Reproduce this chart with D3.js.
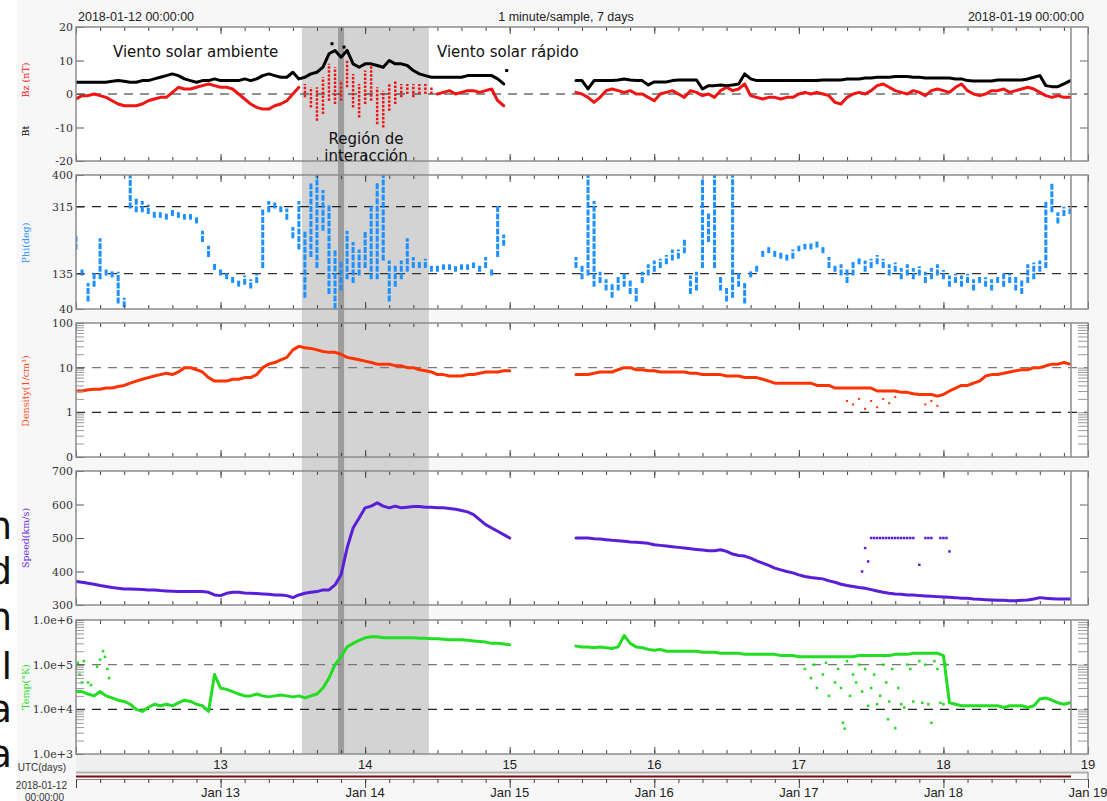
<!DOCTYPE html>
<html><head><meta charset="utf-8">
<script src="https://cdn.jsdelivr.net/npm/d3@7"></script>
<style>body{margin:0;background:#fff}svg{display:block}</style>
</head><body>
<svg id="c" width="1107" height="801"></svg>
<script>
// ---------- DATA (hourly samples from 2018-01-12 00:00 UTC, index = hour) ----------
const startDate = "2018-01-12T00:00:00Z";
const endDate = "2018-01-19T00:00:00Z";
const N = null;
const bt = [3.5,3.5,3.5,3.5,3.5,3.5,3.8,4,3.8,3.5,
 3.5,4,4,4.5,5,5.5,6,5.5,4.5,4,
 3.5,4,4,4.5,4,4,4,4,4.5,4,
 4.5,5.5,6,5.5,5,5,6.5,4.5,5,6,
 6.5,8,12,13,11,13,9,8,9,9,
 8.5,8,10,9,9,8.5,7,6,5.5,5,
 5,5,5,5,5,5.5,5.5,5.5,5.5,5.5,
 4.5,3,N,N,N,N,N,N,N,N,
 N,N,N,4,4,1.5,4,4,4,4,
 4.2,4.5,4.2,4,4,2.7,3.6,3.6,3.6,4,
 4.2,4.2,4.2,4.2,1.5,2.5,2.5,2.7,2.5,2.7,
 3,6,4.5,4,4,4,4,4,4,4,
 4,4,4,4,4.2,4.2,4.2,4.2,4.5,4.5,
 4.5,4.8,4.8,5,5,5,5.2,5.2,5.2,5,
 5,4.8,4.8,4.8,4.8,4.8,4.5,4.5,4,3.9,
 3.9,3.9,3.9,4.2,4.2,4.2,4.2,4.2,4.5,5,
 5.5,2.5,2.2,2.2,3,3.9];
const btExtra = [[42.5,15],[44.5,14],[71.5,7]];
const bz = [-1.5,-0.5,-0.5,0,-0.5,-1,-2,-3,-3.5,-3.5,
 -3.5,-3,-2,-1.5,-1,-1,0.5,2,1.5,1.5,
 2,2.5,3,2.5,2,2,1.5,0,-1.5,-3,
 -4,-4.5,-4.5,-3.5,-3,-2,0,2,N,N,
 N,N,N,N,N,N,N,N,N,N,
 N,N,N,N,N,N,N,N,N,N,
 0,0.5,1,0,0.5,1,1,0.5,1,1.5,
 -2,-3.5,N,N,N,N,N,N,N,N,
 N,N,N,0.5,0,-1,-2.5,-1,1,1.5,
 1,0.5,1,0,0,-1,-2,0,0.5,1,
 0,-1,1,0.5,-0.5,0,-1,1,2,1,
 1.5,3,-0.5,-1,-1.5,-1,-1,-1.5,-1,-1,
 0,0.5,0,0.5,0,-0.5,-2.5,-3,-1,0,
 0.5,0,1,2.5,3,2,1,0.5,0,1,
 0.5,-0.5,1,1.5,1,0.5,2,3,1,0,
 -0.5,0,1,1,1.5,0.5,1,1.5,2,1.5,
 0.5,-0.5,-1,-0.5,-1,-1];
// interaction region Bz spread: [hour, low, high]
const bzSpread = [[38,-1,3],[39,-4,2],[40,-8,2],[41,-6,5],[42,-2,9],[43,-3,8],[44,-2,4],
 [45,2,10],[46,-4,6],[47,-7,3],[48,-3,7],[49,-2,9],[50,-9,2],[51,-10,1],[52,-5,3],
 [53,-3,4],[54,-1,3],[55,0,3],[56,-1,3],[57,0,3],[58,0,3],[59,0,2]];
const phiLo = [200,130,60,100,120,130,125,55,45,310,
 300,300,295,285,285,280,290,285,280,280,
 270,220,180,145,130,120,110,100,105,95,
 110,150,300,310,300,280,230,200,70,180,
 150,250,80,40,90,120,110,130,150,120,
 120,170,60,100,120,140,150,150,150,140,
 140,145,145,140,145,145,150,140,150,130,
 180,210,N,N,N,N,N,N,N,N,
 N,N,N,150,120,130,100,110,90,70,
 90,100,80,60,110,130,140,150,160,170,
 175,190,80,90,150,220,150,90,60,70,
 100,55,125,140,180,190,180,175,170,175,
 195,200,200,205,190,150,140,130,110,130,
 160,140,150,160,150,130,140,120,130,120,
 130,110,120,130,120,100,110,100,110,90,
 110,100,90,110,100,110,90,80,110,120,
 140,150,300,270,290,295];
const phiHi = [235,150,110,140,230,150,145,140,70,400,
 340,330,320,305,300,300,310,300,295,295,
 290,250,210,165,150,140,130,120,130,120,
 135,310,330,330,320,310,260,330,250,380,
 400,360,320,200,170,250,220,200,250,320,
 380,400,170,160,170,230,180,170,175,160,
 160,160,160,155,160,160,165,160,180,150,
 320,240,N,N,N,N,N,N,N,N,
 N,N,N,180,160,400,330,140,120,110,
 130,140,120,100,140,160,170,175,185,200,
 200,230,130,140,390,300,400,130,100,400,
 140,110,145,160,200,210,200,195,190,200,
 210,215,220,225,210,180,160,160,150,170,
 180,170,175,185,175,160,165,150,160,150,
 155,140,150,160,145,130,135,130,135,120,
 130,125,120,130,140,135,130,120,160,165,
 170,330,380,300,315,310];
const density = [3,3,3.2,3.3,3.3,3.5,3.5,3.8,4,4.5,
 5,5.5,6,6.5,7,7.5,7,8,10,10,
 9,8,6,5,5,5,5.5,5.5,6,6,
 7,10,12,13,15,17,25,30,28,27,
 25,23,22,22,20,17,16,15,14,13,
 12,12,12,11,11,10,10,9,8.5,8,
 7,7,6.5,6.5,6.5,7,7,7.5,8,8,
 8,8.5,8.5,N,N,N,N,N,N,N,
 N,N,N,7,7,7,7.5,8,8,8,
 9,10,10,9,9,8.5,8.5,8,8,8,
 8,8,7.5,7.5,7,7,7,7,6.5,6.5,
 6.5,6,6,6,5.5,5,4.5,4.5,4.5,4.5,
 4.5,4.5,4.5,4,4,4,3.5,3.5,3.5,3.5,
 3.5,3.5,3.5,3,3,3,3,2.8,2.8,2.6,
 2.5,2.5,2.5,2.3,2.5,3,3.5,4,4,4.5,
 5,6.5,7,7,7.5,8,8.5,9,9,10,
 10,11,12,12,13,12];
const densityExtra = [[128,1.8],[129,1.5],[130,2],[131,1.2],[132,1.8],[133,1.3],[134,2],
 [135,1.6],[136,2.2],[141,1.5],[142,1.8],[143,1.4]];
const speed = [370,368,365,362,358,355,352,350,348,348,
 347,346,345,345,343,342,341,340,340,340,
 340,340,338,330,328,335,338,338,336,335,
 334,333,332,330,330,328,322,330,335,338,
 340,345,345,360,390,470,530,560,590,595,
 605,595,590,595,590,592,594,594,592,592,
 590,590,588,586,582,578,570,555,540,530,
 520,510,500,N,N,N,N,N,N,N,
 N,N,N,500,500,500,498,497,495,493,
 492,490,488,487,486,484,480,478,476,474,
 472,470,468,466,464,462,462,465,460,452,
 448,446,440,432,425,418,410,405,400,396,
 390,385,382,380,378,372,368,362,358,355,
 352,350,346,342,338,335,333,332,330,330,
 328,327,326,325,324,323,322,320,320,318,
 317,316,315,314,314,313,313,314,315,318,
 322,320,319,318,318,318];
const speedExtra = [[130.5,400],[131,470],[131.5,430],[132,500],[132.5,500],[133,500],[133.5,500],
 [134,500],[134.5,500],[135,500],[135.5,500],[136,500],[136.5,500],[137,500],[137.5,500],
 [138,500],[138.5,500],[139,500],[140,420],[141,500],[141.5,500],[142,500],[143.5,500],
 [144,500],[144.5,500],[145,460]];
const temp = [2.5e4,2.5e4,2.2e4,2e4,2.5e4,2e4,1.8e4,1.6e4,1.5e4,1.3e4,
 1e4,9e3,1.1e4,1.3e4,1.2e4,1.3e4,1.2e4,1.4e4,1.6e4,1.5e4,
 1.3e4,1.2e4,9e3,6e4,3e4,2.8e4,2.5e4,2.2e4,2e4,2e4,
 2.2e4,2e4,1.9e4,2e4,2.1e4,2e4,1.9e4,2e4,1.8e4,2e4,
 2.2e4,3e4,5e4,1e5,1.5e5,2.5e5,3e5,3.5e5,4e5,4.2e5,
 4.2e5,4e5,4e5,4e5,4e5,4e5,4e5,3.9e5,3.9e5,3.8e5,
 3.8e5,3.7e5,3.6e5,3.6e5,3.6e5,3.5e5,3.4e5,3.3e5,3.2e5,3e5,
 3e5,2.9e5,2.8e5,N,N,N,N,N,N,N,
 N,N,N,2.6e5,2.5e5,2.5e5,2.4e5,2.5e5,2.4e5,2.3e5,
 2.5e5,4.5e5,3e5,2.5e5,2.4e5,2.2e5,2.1e5,2.2e5,2e5,2e5,
 2e5,2e5,2e5,2e5,1.9e5,1.9e5,1.9e5,1.8e5,1.8e5,1.8e5,
 1.8e5,1.7e5,1.7e5,1.7e5,1.7e5,1.7e5,1.7e5,1.6e5,1.6e5,1.6e5,
 1.5e5,1.5e5,1.5e5,1.5e5,1.5e5,1.5e5,1.5e5,1.5e5,1.5e5,1.5e5,
 1.6e5,1.6e5,1.6e5,1.6e5,1.6e5,1.6e5,1.7e5,1.7e5,1.7e5,1.8e5,
 1.8e5,1.8e5,1.8e5,1.8e5,1.6e5,1.4e4,1.3e4,1.2e4,1.2e4,1.2e4,
 1.2e4,1.2e4,1.2e4,1.2e4,1.1e4,1.2e4,1.2e4,1.2e4,1.1e4,1.2e4,
 1.7e4,1.8e4,1.6e4,1.4e4,1.3e4,1.4e4];
const tempExtra = [[0,8e4],[0.3,1.1e5],[0.6,6e4],[1,4e4],[1.3,1.2e5],[2,4e4],[2.5,3.5e4],
 [3.5,9e4],[4,1.3e5],[4.5,2e5],[4.8,1.5e5],[5.2,8e4],[5.5,5e4],
 [121,8e4],[122,5e4],[122.5,1e5],[123,3e4],[124,6e4],[124.5,1.1e5],[125,2e4],[126,4e4],
 [126.5,8e4],[127,3e4],[127.3,5e3],[127.6,3.7e3],[128,1.2e5],[128.5,2e4],[129,6e4],
 [129.5,4e4],[130,1e5],[130.5,2.5e4],[131,8e4],[131.5,1.2e4],[132,3e4],[132.5,6e4],
 [133,1.3e4],[133.5,2e4],[134,1e5],[134.5,4e4],[134.8,6e3],[135,1.5e4],[135.5,8e4],
 [136,3.8e3],[136.5,3e4],[137,1.3e4],[137.5,1.1e4],[138,1e5],[138.5,8e4],[139,1.5e4],
 [140,1.2e5],[140.5,1.4e4],[141,1e5],[141.5,1.3e4],[142,5e3],[142.5,1.2e5],[143,8e4],
 [143.5,1.4e4],[144,1.3e4],[144.5,1e5]];
// tick labels
const bTicks = [20,10,0,-10,-20];
const phiTicks = [400,315,135,40];
const densTicks = [100,10,1,0.1];
const densLabels = ["100","10","1","0"];
const speedTicks = [700,600,500,400,300];
const tempTicks = [1e6,1e5,1e4,1e3];
const tempLabels = ["1.0e+6","1.0e+5","1.0e+4","1.0e+3"];
const dayLabels = ["13","14","15","16","17","18","19"];
const dateLabels = ["Jan 13","Jan 14","Jan 15","Jan 16","Jan 17","Jan 18","Jan 19"];
const shadeStart = "2018-01-13T13:30:00Z", shadeEnd = "2018-01-14T10:35:00Z";
const markStart = "2018-01-13T19:30:00Z", markEnd = "2018-01-13T20:30:00Z";

// ---------- DRAW ----------
const svg = d3.select("#c");
const t0 = new Date(startDate).getTime();
const hd = h => new Date(t0 + h * 3600000);
const X0 = 76, X1 = 1088, XD = 1071;
const x = d3.scaleUtc().domain([new Date(startDate), new Date(endDate)]).range([X0, X1]);

svg.append("rect").attr("width",1107).attr("height",801).attr("fill","#fff");
svg.append("rect").attr("x",17).attr("width",1090).attr("height",801).attr("fill","#f7f7f7");

const P = [
 {top:27,bottom:161,y:d3.scaleLinear([-20,20],[161,27]),ticks:bTicks,labels:bTicks.map(String),dash:[[0,"#222"]],right:[10,-10],log:false},
 {top:175,bottom:309,y:d3.scaleLinear([40,400],[309,175]),ticks:phiTicks,labels:phiTicks.map(String),dash:[[315,"#222"],[135,"#333"]],right:[],log:false},
 {top:323,bottom:457,y:d3.scaleLog([0.1,100],[457,323]),ticks:densTicks,labels:densLabels,dash:[[10,"#777"],[1,"#222"]],log:true},
 {top:471,bottom:605,y:d3.scaleLinear([300,700],[605,471]),ticks:speedTicks,labels:speedTicks.map(String),dash:[],right:[600,500,400],log:false},
 {top:620,bottom:754,y:d3.scaleLog([1e3,1e6],[754,620]),ticks:tempTicks,labels:tempLabels,dash:[[1e5,"#777"],[1e4,"#222"]],log:true}
];

P.forEach((p,i)=>{
  svg.append("rect").attr("x",X0).attr("y",p.top).attr("width",X1-X0).attr("height",p.bottom-p.top).attr("fill","#fff");
  svg.append("clipPath").attr("id","clip"+i).append("rect").attr("x",X0).attr("y",p.top).attr("width",XD-X0).attr("height",p.bottom-p.top);
});

// shaded interaction region
svg.append("rect").attr("x",x(new Date(shadeStart))).attr("y",27)
  .attr("width",x(new Date(shadeEnd))-x(new Date(shadeStart))).attr("height",754-27).attr("fill","#d3d3d3");
svg.append("rect").attr("x",x(new Date(markStart))).attr("y",27)
  .attr("width",x(new Date(markEnd))-x(new Date(markStart))).attr("height",754-27).attr("fill","#9c9c9c");

// dashed reference lines
P.forEach(p=>{
  p.dash.forEach(([v,c])=>{
    svg.append("line").attr("x1",X0).attr("x2",X1).attr("y1",p.y(v)).attr("y2",p.y(v))
      .attr("stroke",c).attr("stroke-width",1.2).attr("stroke-dasharray","9,7");
  });
});

function drawLine(i, vals, y, color, w){
  const g = svg.append("g").attr("clip-path",`url(#clip${i})`);
  const line = d3.line().defined(d=>d[1]!=null).x(d=>x(hd(d[0]))).y(d=>y(d[1]));
  g.append("path").datum(vals.map((v,k)=>[k,v])).attr("d",line).attr("fill","none")
    .attr("stroke",color).attr("stroke-width",w).attr("stroke-linejoin","round").attr("stroke-linecap","round");
  return g;
}
function drawDots(g, pts, y, color, s){
  g.selectAll(null).data(pts).join("rect")
   .attr("x",d=>x(hd(d[0]))-s/2).attr("y",d=>y(d[1])-s/2).attr("width",s).attr("height",s).attr("fill",color);
}
function drawBars(g, rows, y, color, w, dash){
  g.selectAll(null).data(rows.filter(r=>r[1]!=null)).join("line")
   .attr("x1",d=>x(hd(d[0]))).attr("x2",d=>x(hd(d[0])))
   .attr("y1",d=>y(d[1])).attr("y2",d=>y(d[2]))
   .attr("stroke",color).attr("stroke-width",w).attr("stroke-dasharray",dash);
}

const cBz="#f01414", cPhi="#1e90ff", cDen="#ff3300", cSp="#5a1ed8", cT="#22dd22";
// panel 1
let g1 = drawLine(0, bz, P[0].y, cBz, 3);
drawBars(g1, bzSpread, P[0].y, cBz, 2.5, "2.5,1.5");
drawLine(0, bt, P[0].y, "#000", 3);
drawDots(g1, btExtra, P[0].y, "#000", 3);
// panel 2
let g2 = svg.append("g").attr("clip-path","url(#clip1)");
drawBars(g2, phiLo.map((lo,k)=>[k,lo,phiHi[k]]), P[1].y, cPhi, 3, "6,1.5");
// panel 3
let g3 = drawLine(2, density, P[2].y, cDen, 3);
drawDots(g3, densityExtra, P[2].y, cDen, 2);
// panel 4
let g4 = drawLine(3, speed, P[3].y, cSp, 3);
drawDots(g4, speedExtra, P[3].y, cSp, 2.5);
// panel 5
let g5 = drawLine(4, temp, P[4].y, cT, 3);
drawDots(g5, tempExtra, P[4].y, cT, 2.5);

// frames, ticks, axes
const grey = "#8c8c8c";
const hours4 = d3.utcHour.every(4).range(new Date(startDate), new Date(endDate));
const days = d3.utcDay.range(new Date(startDate), d3.utcDay.offset(new Date(endDate),1));
P.forEach((p,i)=>{
  const top = svg.append("g").attr("transform",`translate(0,${p.top})`)
    .call(d3.axisTop(x).tickValues(hours4).tickSize(-4).tickFormat(""));
  const topD = svg.append("g").attr("transform",`translate(0,${p.top})`)
    .call(d3.axisTop(x).tickValues(days).tickSize(-7).tickFormat(""));
  const bot = svg.append("g").attr("transform",`translate(0,${p.bottom})`)
    .call(d3.axisBottom(x).tickValues(hours4).tickSize(-4).tickFormat(""));
  const botD = svg.append("g").attr("transform",`translate(0,${p.bottom})`)
    .call(d3.axisBottom(x).tickValues(days).tickSize(-7).tickFormat(""));
  [top,topD,bot,botD].forEach(a=>{a.select(".domain").remove(); a.selectAll("line").attr("stroke","#444").attr("stroke-width",1);});

  if (p.log){
    const d = p.y.domain(); const minors=[];
    for (let dec=d[0]; dec<d[1]; dec*=10) for (let m=2;m<=9;m++) minors.push(dec*m);
    const lm = svg.append("g").attr("transform",`translate(${X0},0)`).call(d3.axisLeft(p.y).tickValues(minors).tickSize(-8).tickFormat(""));
    const rm = svg.append("g").attr("transform",`translate(${X1},0)`).call(d3.axisRight(p.y).tickValues(minors.concat(p.ticks.slice(1,-1))).tickSize(-10).tickFormat(""));
    [lm,rm].forEach(a=>{a.select(".domain").remove(); a.selectAll("line").attr("stroke","#999").attr("stroke-width",1);});
  } else {
    const rm = svg.append("g").attr("transform",`translate(${X1},0)`).call(d3.axisRight(p.y).tickValues(p.right).tickSize(-8).tickFormat(""));
    rm.select(".domain").remove(); rm.selectAll("line").attr("stroke","#666");
  }
  const la = svg.append("g").attr("transform",`translate(${X0},0)`)
    .call(d3.axisLeft(p.y).tickValues(p.ticks).tickSize(-8).tickPadding(3).tickFormat((v,k)=>p.labels[k]));
  la.select(".domain").remove();
  la.selectAll("line").attr("stroke","#555");
  la.selectAll("text").attr("font-family","DejaVu Serif").attr("font-size",11).attr("fill","#333");

  svg.append("rect").attr("x",X0).attr("y",p.top).attr("width",X1-X0).attr("height",p.bottom-p.top)
    .attr("fill","none").attr("stroke",grey).attr("stroke-width",1.5);
  svg.append("line").attr("x1",XD).attr("x2",XD).attr("y1",p.top).attr("y2",p.bottom).attr("stroke",grey).attr("stroke-width",1.5);
});

// y axis titles
const titles = [["Bz (nT)",cBz,80],["Bt","#000",131],["Phi(deg)",cPhi,243],["Density(1/cm³)","#ff4a1a",391],["Speed(km/s)","#6a2ae0",538],["Temp(°K)",cT,687]];
titles.forEach(([t,c,yy])=>{
  svg.append("text").attr("transform",`translate(29,${yy}) rotate(-90)`).attr("text-anchor","middle")
   .attr("font-family","DejaVu Serif").attr("font-size",9.5).attr("fill",c).text(t);
});

// header
const hf = "Liberation Sans";
svg.append("text").attr("x",78).attr("y",21).attr("font-family",hf).attr("font-size",12.5).attr("fill","#222").text("2018-01-12 00:00:00");
svg.append("text").attr("x",566).attr("y",21).attr("text-anchor","middle").attr("font-family",hf).attr("font-size",12.5).attr("fill","#222").text("1 minute/sample, 7 days");
svg.append("text").attr("x",1084).attr("y",21).attr("text-anchor","end").attr("font-family",hf).attr("font-size",12.5).attr("fill","#222").text("2018-01-19 00:00:00");

// annotations
const af = "DejaVu Sans";
svg.append("text").attr("x",113).attr("y",57).attr("font-family",af).attr("font-size",15).attr("fill","#111").text("Viento solar ambiente");
svg.append("text").attr("x",437).attr("y",57).attr("font-family",af).attr("font-size",15).attr("fill","#111").text("Viento solar rápido");
svg.append("text").attr("x",366).attr("y",144).attr("text-anchor","middle").attr("font-family",af).attr("font-size",15).attr("fill","#111").text("Región de");
svg.append("text").attr("x",366).attr("y",161).attr("text-anchor","middle").attr("font-family",af).attr("font-size",15).attr("fill","#111").text("interacción");

// bottom time axis
svg.append("rect").attr("x",X0).attr("y",755).attr("width",X1-X0).attr("height",16).attr("fill","#efefef");
const dayTicks = days.slice(1);
dayTicks.forEach((d,k)=>{
  svg.append("text").attr("x",x(d)).attr("y",769).attr("text-anchor","middle").attr("font-family",hf).attr("font-size",13).attr("fill","#222").text(dayLabels[k]);
  svg.append("text").attr("x",x(d)).attr("y",797).attr("text-anchor","middle").attr("font-family",hf).attr("font-size",13).attr("fill","#222").text(dateLabels[k]);
});
svg.append("line").attr("x1",X0).attr("x2",X1).attr("y1",772.5).attr("y2",772.5).attr("stroke","#b0b0b0").attr("stroke-width",2);
svg.append("line").attr("x1",X0).attr("x2",XD).attr("y1",776.5).attr("y2",776.5).attr("stroke","#7a0c0c").attr("stroke-width",2);
svg.append("line").attr("x1",X0).attr("x2",X1).attr("y1",779.5).attr("y2",779.5).attr("stroke","#888").attr("stroke-width",1.2);
svg.append("line").attr("x1",X1).attr("x2",X1).attr("y1",772).attr("y2",780).attr("stroke","#888").attr("stroke-width",1.2);
const ba = svg.append("g").attr("transform","translate(0,779)").call(d3.axisBottom(x).tickValues(hours4.concat([new Date(endDate)])).tickSize(4).tickFormat(""));
const bd = svg.append("g").attr("transform","translate(0,779)").call(d3.axisBottom(x).tickValues(days).tickSize(9).tickFormat(""));
[ba,bd].forEach(a=>{a.select(".domain").remove(); a.selectAll("line").attr("stroke","#444");});
svg.append("text").attr("x",66).attr("y",771).attr("text-anchor","end").attr("font-family",hf).attr("font-size",10).attr("fill","#333").text("UTC(days)");
svg.append("text").attr("x",67).attr("y",789).attr("text-anchor","end").attr("font-family",hf).attr("font-size",10).attr("fill","#333").text("2018-01-12");
svg.append("text").attr("x",64).attr("y",801).attr("text-anchor","end").attr("font-family",hf).attr("font-size",10).attr("fill","#333").text("00:00:00");

// cropped letters of surrounding page text at left edge
const frag = [["n",539],["d",584],["n",630],["l",679],["a",722],["a",767]];
frag.forEach(([t,yy])=>{
  svg.append("text").attr("x",12).attr("y",yy).attr("text-anchor","end").attr("font-family","DejaVu Sans").attr("font-size",38).attr("fill","#111").text(t);
});
</script>
</body></html>
